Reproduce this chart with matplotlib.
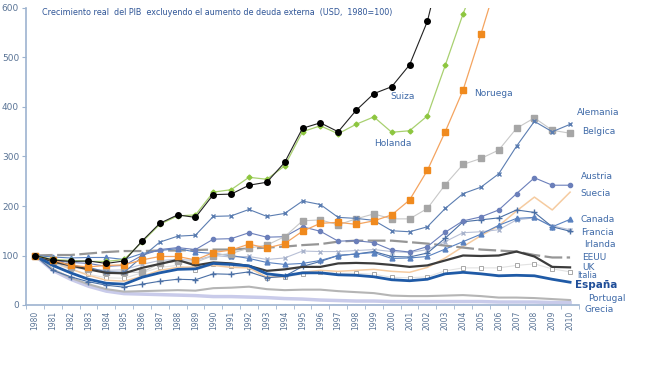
import numpy as np
import matplotlib
matplotlib.use('Agg')
import matplotlib.pyplot as plt

years = list(range(1980, 2011))

# index values (1980=100); series that leave the top stop early
suiza = [100, 91, 88, 89, 84, 89, 129, 165, 182, 177, 223, 224, 242, 248, 288, 357,
         368, 350, 393, 427, 441, 485, 573, 720]
holanda = [100, 92, 90, 88, 88, 92, 127, 163, 180, 182, 228, 233, 258, 254, 281, 350,
           362, 346, 365, 380, 349, 352, 382, 484, 588, 680]
noruega = [100, 91, 80, 77, 80, 81, 91, 98, 98, 91, 106, 111, 123, 115, 124, 149,
           165, 167, 163, 170, 182, 212, 272, 350, 434, 547, 665]
alemania = [100, 87, 80, 76, 67, 66, 97, 127, 139, 141, 179, 180, 193, 179, 185, 210,
            203, 177, 175, 171, 150, 148, 158, 195, 225, 238, 265, 321, 371, 350, 365]
belgica = [100, 86, 76, 72, 66, 66, 66, 84, 88, 86, 100, 104, 115, 121, 138, 170,
           172, 162, 174, 184, 174, 174, 195, 243, 284, 296, 313, 357, 378, 353, 347]
austria = [100, 90, 86, 84, 78, 80, 100, 112, 116, 112, 133, 134, 146, 137, 138, 158,
           149, 129, 130, 126, 111, 107, 118, 147, 170, 178, 192, 225, 257, 242, 242]
suecia = [100, 88, 73, 60, 50, 48, 58, 70, 76, 77, 80, 76, 75, 56, 57, 66,
          70, 68, 70, 72, 68, 66, 76, 95, 118, 140, 160, 190, 218, 192, 228]
canada = [100, 97, 95, 96, 96, 92, 104, 110, 114, 107, 104, 100, 94, 86, 82, 84,
          90, 100, 103, 106, 94, 95, 98, 113, 128, 143, 161, 175, 177, 158, 173]
francia = [100, 70, 57, 47, 40, 36, 42, 48, 52, 51, 63, 62, 67, 55, 58, 78,
           88, 100, 103, 108, 98, 97, 105, 135, 168, 172, 176, 192, 187, 158, 149]
irlanda = [100, 85, 78, 73, 70, 71, 82, 90, 92, 90, 100, 97, 98, 92, 95, 109,
           108, 108, 110, 112, 108, 106, 112, 128, 146, 148, 152, 172, 176, 160, 152]
eeuu = [100, 101, 101, 104, 107, 109, 109, 110, 110, 111, 112, 112, 114, 116, 118, 121,
        123, 128, 130, 130, 130, 127, 124, 120, 116, 112, 110, 108, 101, 96, 96]
uk = [100, 88, 80, 72, 65, 64, 75, 83, 91, 80, 86, 84, 79, 69, 72, 77,
      77, 84, 85, 84, 81, 77, 80, 90, 100, 99, 100, 108, 98, 77, 76]
italia = [100, 84, 72, 62, 55, 54, 65, 76, 80, 70, 82, 78, 76, 55, 57, 62,
          66, 64, 64, 62, 56, 55, 57, 69, 75, 75, 75, 80, 83, 73, 67]
espana = [100, 80, 65, 52, 44, 42, 56, 65, 72, 73, 84, 82, 79, 63, 59, 65,
          65, 61, 60, 57, 51, 49, 52, 63, 66, 63, 59, 60, 59, 52, 46]
portugal = [100, 72, 55, 42, 32, 27, 28, 29, 30, 29, 34, 35, 37, 32, 30, 31,
            31, 28, 26, 24, 19, 18, 18, 19, 20, 18, 15, 15, 14, 12, 10]
grecia = [100, 70, 52, 38, 28, 23, 22, 21, 20, 19, 17, 17, 16, 15, 13, 12,
          10, 9, 8, 8, 7, 7, 7, 7, 7, 7, 6, 6, 6, 5, 5]

def yrs(v):
    return years[:len(v)]

fig = plt.figure(figsize=(6.5, 3.85), dpi=100)
ax = fig.add_axes([26/650, 1-305/385, (579-26)/650, (305-8)/385])

# background lines first
ax.plot(years, grecia, color='#C9CBEA', lw=2.5)
ax.plot(years, portugal, color='#B5B5B5', lw=1.5)
ax.plot(years, italia, color='#E2E2E2', lw=0.8, marker='s', ms=3,
        mfc='white', mec='#A8A8A8', mew=0.7)
ax.plot(years, suecia, color='#F5CBA0', lw=1.1)
ax.plot(years, eeuu, color='#969696', lw=1.6, dashes=(8, 2))
ax.plot(years, irlanda, color='#B8C0D6', lw=0.8, marker='x', ms=3, mec='#A8B3CC')
ax.plot(years, francia, color='#4A6FA5', lw=0.8, marker='+', ms=4.5)
ax.plot(years, canada, color='#5A82C0', lw=0.8, marker='^', ms=3.5)
ax.plot(years, austria, color='#6B7FBA', lw=0.8, marker='o', ms=3)
ax.plot(years, belgica, color='#C8C8C8', lw=0.8, marker='s', ms=4, mfc='#A6A6A6', mec='#A6A6A6')
ax.plot(years, alemania, color='#5B7DB1', lw=0.8, marker='x', ms=3.5)
ax.plot(years, uk, color='#3C3C3C', lw=1.6)
ax.plot(years, espana, color='#1F5AA6', lw=2.0)
ax.plot(yrs(noruega), noruega, color='#F4A460', lw=0.9, marker='s', ms=4,
        mfc='#F08A1E', mec='#F08A1E')
ax.plot(yrs(holanda), holanda, color='#A8D070', lw=0.9, marker='D', ms=2.5,
        mfc='#8DC63F', mec='#8DC63F')
ax.plot(yrs(suiza), suiza, color='#222222', lw=0.8, marker='o', ms=4, mfc='black', mec='black')

ax.set_xlim(1979.5, 2010.5)
ax.set_ylim(0, 600)

axis_col = '#9DB3CF'
for s in ['top', 'right']:
    ax.spines[s].set_visible(False)
for s in ['left', 'bottom']:
    ax.spines[s].set_color(axis_col)
    ax.spines[s].set_linewidth(1.2)

ax.set_yticks(range(0, 601, 100))
ax.set_yticklabels([str(v) for v in range(0, 601, 100)], fontsize=6.5, color='#5A7496')
ax.set_xticks(years)
ax.set_xticklabels([str(y) for y in years], rotation=90, fontsize=5.5, color='#5A7496')
ax.tick_params(axis='x', length=0, pad=4)
ax.tick_params(axis='y', length=3, color=axis_col, pad=2)
ax.set_xticks(np.arange(1979.5, 2011, 1), minor=True)
ax.tick_params(axis='x', which='minor', length=3, color=axis_col)

ax.text(1980.4, 590, 'Crecimiento real  del PIB  excluyendo el aumento de deuda externa  (USD,  1980=100)',
        fontsize=5.8, color='#2F5597', va='center')

lab_col = '#3F6AA8'
labels = [
    ('Suiza', 1999.9, 422), ('Noruega', 2004.6, 428), ('Holanda', 1999.0, 327),
    ('Alemania', 2010.4, 388), ('Belgica', 2010.7, 350), ('Austria', 2010.6, 259),
    ('Suecia', 2010.6, 226), ('Canada', 2010.6, 172), ('Francia', 2010.6, 147),
    ('Irlanda', 2010.8, 123), ('EEUU', 2010.7, 95), ('UK', 2010.7, 76),
    ('Portugal', 2011.0, 14), ('Grecia', 2010.8, -10),
]
for name, x, y in labels:
    ax.text(x, y, name, fontsize=6.5, color=lab_col, va='center', ha='left', clip_on=False)
ax.text(2010.4, 60, 'Italia', fontsize=5.8, color=lab_col, va='center', ha='left', clip_on=False)
ax.text(2010.3, 40, 'España', fontsize=7.5, color='#1F4E99', fontweight='bold',
        va='center', ha='left', clip_on=False)

fig.savefig('out.png', dpi=100)
